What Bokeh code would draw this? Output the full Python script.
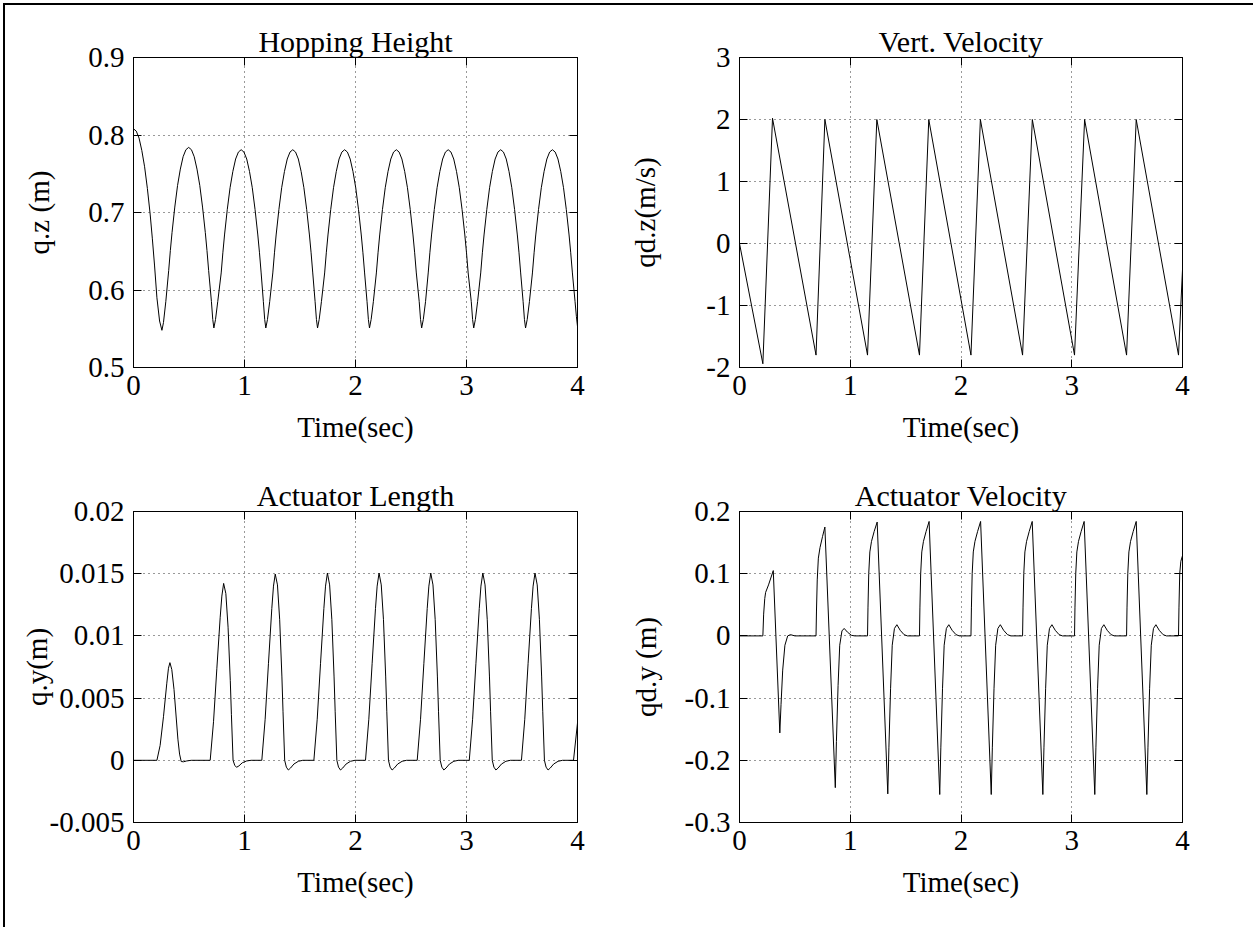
from bokeh.plotting import figure
from bokeh.layouts import gridplot
from bokeh.models import Range1d, FixedTicker, LinearAxis, CustomJSTickFormatter
from bokeh.embed import file_html
from bokeh.resources import INLINE

# ---------------- data ----------------
x_ticks = [0, 1, 2, 3, 4]
x_tick_labels = ["0", "1", "2", "3", "4"]

# Hopping height q.z (m)
t_height = [
    0.000, 0.025, 0.050, 0.075, 0.100, 0.125, 0.150, 0.170, 0.190, 0.211, 0.235, 0.256, 0.270, 0.291,
    0.317, 0.332, 0.347, 0.372, 0.397, 0.422, 0.447, 0.472, 0.497, 0.522, 0.547, 0.572, 0.597, 0.622, 0.647, 0.662, 0.677,
    0.702, 0.714, 0.724, 0.739, 0.759,
    0.790, 0.805, 0.820, 0.845, 0.870, 0.895, 0.920, 0.945, 0.970, 0.995, 1.020, 1.045, 1.070, 1.095, 1.120, 1.135, 1.150,
    1.170, 1.182, 1.192, 1.207, 1.227,
    1.255, 1.270, 1.285, 1.310, 1.335, 1.360, 1.385, 1.410, 1.435, 1.460, 1.485, 1.510, 1.535, 1.560, 1.585, 1.600, 1.615,
    1.636, 1.648, 1.658, 1.673, 1.693,
    1.722, 1.737, 1.752, 1.777, 1.802, 1.827, 1.852, 1.877, 1.902, 1.927, 1.952, 1.977, 2.002, 2.027, 2.052, 2.067, 2.082,
    2.104, 2.116, 2.126, 2.141, 2.161,
    2.188, 2.203, 2.218, 2.243, 2.268, 2.293, 2.318, 2.343, 2.368, 2.393, 2.418, 2.443, 2.468, 2.493, 2.518, 2.533, 2.548,
    2.574, 2.586, 2.596, 2.611, 2.631,
    2.655, 2.670, 2.685, 2.710, 2.735, 2.760, 2.785, 2.810, 2.835, 2.860, 2.885, 2.910, 2.935, 2.960, 2.985, 3.000, 3.015,
    3.043, 3.055, 3.065, 3.080, 3.100,
    3.128, 3.143, 3.158, 3.183, 3.208, 3.233, 3.258, 3.283, 3.308, 3.333, 3.358, 3.383, 3.408, 3.433, 3.458, 3.473, 3.488,
    3.510, 3.522, 3.532, 3.547, 3.567,
    3.594, 3.609, 3.624, 3.649, 3.674, 3.699, 3.724, 3.749, 3.774, 3.799, 3.824, 3.849, 3.874, 3.899, 3.924, 3.939, 3.954,
    3.978, 3.990, 4.000,
]
z_height = [
    0.808, 0.805, 0.796, 0.780, 0.759, 0.731, 0.698, 0.666, 0.631, 0.590, 0.560, 0.548, 0.558, 0.585,
    0.625, 0.651, 0.674, 0.707, 0.735, 0.756, 0.772, 0.781, 0.784, 0.781, 0.772, 0.756, 0.735, 0.707, 0.674, 0.651, 0.625,
    0.585, 0.562, 0.551, 0.562, 0.585,
    0.622, 0.648, 0.671, 0.704, 0.732, 0.753, 0.769, 0.778, 0.781, 0.778, 0.769, 0.753, 0.732, 0.704, 0.671, 0.648, 0.622,
    0.585, 0.562, 0.551, 0.562, 0.585,
    0.622, 0.648, 0.671, 0.704, 0.732, 0.753, 0.769, 0.778, 0.781, 0.778, 0.769, 0.753, 0.732, 0.704, 0.671, 0.648, 0.622,
    0.585, 0.562, 0.551, 0.562, 0.585,
    0.622, 0.648, 0.671, 0.704, 0.732, 0.753, 0.769, 0.778, 0.781, 0.778, 0.769, 0.753, 0.732, 0.704, 0.671, 0.648, 0.622,
    0.585, 0.562, 0.551, 0.562, 0.585,
    0.622, 0.648, 0.671, 0.704, 0.732, 0.753, 0.769, 0.778, 0.781, 0.778, 0.769, 0.753, 0.732, 0.704, 0.671, 0.648, 0.622,
    0.585, 0.562, 0.551, 0.562, 0.585,
    0.622, 0.648, 0.671, 0.704, 0.732, 0.753, 0.769, 0.778, 0.781, 0.778, 0.769, 0.753, 0.732, 0.704, 0.671, 0.648, 0.622,
    0.585, 0.562, 0.551, 0.562, 0.585,
    0.622, 0.648, 0.671, 0.704, 0.732, 0.753, 0.769, 0.778, 0.781, 0.778, 0.769, 0.753, 0.732, 0.704, 0.671, 0.648, 0.622,
    0.585, 0.562, 0.551, 0.562, 0.585,
    0.622, 0.648, 0.671, 0.704, 0.732, 0.753, 0.769, 0.778, 0.781, 0.778, 0.769, 0.753, 0.732, 0.704, 0.671, 0.648, 0.622,
    0.585, 0.566, 0.553,
]
height_yticks = [0.5, 0.6, 0.7, 0.8, 0.9]
height_ylabels = ["0.5", "0.6", "0.7", "0.8", "0.9"]

# Vertical velocity qd.z (m/s)
t_vel = [0.000, 0.211, 0.298, 0.691, 0.771, 1.156, 1.240, 1.625, 1.709, 2.090,
         2.175, 2.556, 2.644, 3.025, 3.116, 3.495, 3.582, 3.964, 4.000]
v_vel = [0.00, -1.94, 2.02, -1.80, 2.00, -1.80, 2.00, -1.80, 2.00, -1.80,
         2.00, -1.80, 2.00, -1.80, 2.00, -1.80, 2.00, -1.80, -0.42]
vel_yticks = [-2, -1, 0, 1, 2, 3]
vel_ylabels = ["-2", "-1", "0", "1", "2", "3"]

# Actuator length q.y (m)
t_act_len = [
    0.000, 0.211, 0.240, 0.270, 0.300, 0.315, 0.328, 0.345, 0.365, 0.385, 0.400, 0.415, 0.430, 0.450, 0.480, 0.520,
    0.691, 0.721, 0.751, 0.781, 0.796, 0.812, 0.832, 0.852, 0.872, 0.882, 0.897, 0.912, 0.928, 0.950, 0.980, 1.020, 1.060,
    1.156, 1.186, 1.216, 1.246, 1.261, 1.277, 1.297, 1.317, 1.337, 1.347, 1.362, 1.377, 1.395, 1.415, 1.445, 1.485, 1.525,
    1.625, 1.655, 1.685, 1.715, 1.730, 1.747, 1.767, 1.787, 1.807, 1.817, 1.832, 1.847, 1.865, 1.885, 1.915, 1.955, 1.995,
    2.090, 2.120, 2.150, 2.180, 2.195, 2.212, 2.232, 2.252, 2.272, 2.282, 2.297, 2.312, 2.330, 2.350, 2.380, 2.420, 2.460,
    2.556, 2.586, 2.616, 2.646, 2.661, 2.678, 2.698, 2.718, 2.738, 2.748, 2.763, 2.778, 2.796, 2.816, 2.846, 2.886, 2.926,
    3.025, 3.055, 3.085, 3.115, 3.130, 3.147, 3.167, 3.187, 3.207, 3.217, 3.232, 3.247, 3.265, 3.285, 3.315, 3.355, 3.395,
    3.495, 3.525, 3.555, 3.585, 3.600, 3.617, 3.637, 3.657, 3.677, 3.687, 3.702, 3.717, 3.735, 3.755, 3.785, 3.825, 3.865,
    3.964, 4.000,
]
y_act_len = [
    0.0, 0.0, 0.0012, 0.0035, 0.0062, 0.0074, 0.00785, 0.0073, 0.0057, 0.0034, 0.0017, 0.0005, -0.0001, -0.00012, -0.00005, 0.0,
    0.0, 0.0031, 0.0074, 0.0115, 0.0132, 0.01422, 0.0134, 0.0107, 0.0064, 0.0037, 0.0, -0.0004, -0.00056, -0.00045, -0.0002, -0.00005, 0.0,
    0.0, 0.0033, 0.0078, 0.0122, 0.0140, 0.01497, 0.0141, 0.0113, 0.0067, 0.0039, 0.0, -0.00055, -0.00078, -0.00062, -0.0003, -0.00008, 0.0,
    0.0, 0.0033, 0.0078, 0.0122, 0.0140, 0.01505, 0.0141, 0.0113, 0.0067, 0.0039, 0.0, -0.00055, -0.00078, -0.00062, -0.0003, -0.00008, 0.0,
    0.0, 0.0033, 0.0078, 0.0122, 0.0140, 0.01505, 0.0141, 0.0113, 0.0067, 0.0039, 0.0, -0.00055, -0.00078, -0.00062, -0.0003, -0.00008, 0.0,
    0.0, 0.0033, 0.0078, 0.0122, 0.0140, 0.01505, 0.0141, 0.0113, 0.0067, 0.0039, 0.0, -0.00055, -0.00078, -0.00062, -0.0003, -0.00008, 0.0,
    0.0, 0.0033, 0.0078, 0.0122, 0.0140, 0.01505, 0.0141, 0.0113, 0.0067, 0.0039, 0.0, -0.00055, -0.00078, -0.00062, -0.0003, -0.00008, 0.0,
    0.0, 0.0033, 0.0078, 0.0122, 0.0140, 0.01505, 0.0141, 0.0113, 0.0067, 0.0039, 0.0, -0.00055, -0.00078, -0.00062, -0.0003, -0.00008, 0.0,
    0.0, 0.003,
]
len_yticks = [-0.005, 0.0, 0.005, 0.01, 0.015, 0.02]
len_ylabels = ["-0.005", "0", "0.005", "0.01", "0.015", "0.02"]

# Actuator velocity qd.y (m)
t_act_vel = [
    0.000, 0.211, 0.218, 0.228, 0.236, 0.262, 0.305, 0.364, 0.375, 0.390, 0.410, 0.435, 0.460, 0.500,
    0.691, 0.695, 0.702, 0.712, 0.727, 0.750, 0.771, 0.865, 0.875, 0.890, 0.905, 0.925, 0.945, 0.975, 1.010, 1.040,
    1.156, 1.160, 1.167, 1.177, 1.192, 1.216, 1.243, 1.339, 1.349, 1.364, 1.379, 1.399, 1.421, 1.451, 1.486, 1.516,
    1.625, 1.629, 1.636, 1.646, 1.661, 1.685, 1.712, 1.808, 1.818, 1.833, 1.848, 1.868, 1.890, 1.920, 1.955, 1.985,
    2.090, 2.094, 2.101, 2.111, 2.126, 2.150, 2.177, 2.273, 2.283, 2.298, 2.313, 2.333, 2.355, 2.385, 2.420, 2.450,
    2.556, 2.560, 2.567, 2.577, 2.592, 2.616, 2.643, 2.739, 2.749, 2.764, 2.779, 2.799, 2.821, 2.851, 2.886, 2.916,
    3.025, 3.029, 3.036, 3.046, 3.061, 3.085, 3.112, 3.208, 3.218, 3.233, 3.248, 3.268, 3.290, 3.320, 3.355, 3.385,
    3.495, 3.499, 3.506, 3.516, 3.531, 3.555, 3.582, 3.678, 3.688, 3.703, 3.718, 3.738, 3.760, 3.790, 3.825, 3.855,
    3.964, 3.968, 3.975, 3.985, 4.000,
]
y_act_vel = [
    0.0, 0.0, 0.035, 0.060, 0.070, 0.082, 0.105, -0.156, -0.110, -0.055, -0.015, 0.0, 0.002, 0.0,
    0.0, 0.040, 0.090, 0.125, 0.142, 0.160, 0.175, -0.244, -0.170, -0.080, -0.015, 0.008, 0.012, 0.006, 0.001, 0.0,
    0.0, 0.045, 0.100, 0.135, 0.152, 0.168, 0.183, -0.254, -0.180, -0.085, -0.015, 0.012, 0.018, 0.009, 0.002, 0.0,
    0.0, 0.045, 0.100, 0.135, 0.152, 0.168, 0.184, -0.255, -0.180, -0.085, -0.015, 0.012, 0.018, 0.009, 0.002, 0.0,
    0.0, 0.045, 0.100, 0.135, 0.152, 0.168, 0.184, -0.255, -0.180, -0.085, -0.015, 0.012, 0.018, 0.009, 0.002, 0.0,
    0.0, 0.045, 0.100, 0.135, 0.152, 0.168, 0.184, -0.255, -0.180, -0.085, -0.015, 0.012, 0.018, 0.009, 0.002, 0.0,
    0.0, 0.045, 0.100, 0.135, 0.152, 0.168, 0.184, -0.255, -0.180, -0.085, -0.015, 0.012, 0.018, 0.009, 0.002, 0.0,
    0.0, 0.045, 0.100, 0.135, 0.152, 0.168, 0.184, -0.255, -0.180, -0.085, -0.015, 0.012, 0.018, 0.009, 0.002, 0.0,
    0.0, 0.045, 0.100, 0.120, 0.129,
]
actvel_yticks = [-0.3, -0.2, -0.1, 0.0, 0.1, 0.2]
actvel_ylabels = ["-0.3", "-0.2", "-0.1", "0", "0.1", "0.2"]

# ---------------- styling ----------------
FONT = "Liberation Serif"
TICK_FS = "29px"
LABEL_FS = "29px"
TITLE_FS = "30px"
TICK_LEN = 8


def tick_formatter(tvals, tlabels):
    return CustomJSTickFormatter(
        args=dict(tv=tvals, tl=tlabels),
        code="const i = tv.findIndex(v => Math.abs(v - tick) < 1e-9); return i >= 0 ? tl[i] : '';",
    )


def style_axis(ax, tvals, tlabels, show_labels=True):
    ax.ticker = FixedTicker(ticks=tvals)
    ax.major_tick_in = TICK_LEN
    ax.major_tick_out = 0
    ax.minor_tick_line_color = None
    ax.axis_line_color = "black"
    ax.major_tick_line_color = "black"
    ax.major_label_text_font = FONT
    ax.major_label_text_color = "black"
    ax.major_label_text_font_size = TICK_FS
    if show_labels:
        ax.formatter = tick_formatter(tvals, tlabels)
    else:
        ax.formatter = CustomJSTickFormatter(code="return '';")
        ax.major_label_standoff = 0


def make_fig(title, ylabel, xs, ys, yrange, yticks, ylabels, w, h, bl, br, bt, bb, ylab_standoff):
    p = figure(width=w, height=h, x_range=Range1d(0, 4), y_range=Range1d(*yrange),
               output_backend="svg", toolbar_location=None,
               min_border_left=bl, min_border_right=br, min_border_top=bt, min_border_bottom=bb,
               background_fill_color="white", border_fill_color="white")
    p.line(xs, ys, line_color="black", line_width=1)

    p.title.text = title
    p.title.text_font = FONT
    p.title.text_font_size = TITLE_FS
    p.title.text_font_style = "normal"
    p.title.text_color = "black"
    p.title.align = "center"
    p.title.standoff = 0

    p.outline_line_color = "black"
    p.outline_line_width = 1
    p.outline_line_alpha = 1

    for g in (p.xgrid[0], p.ygrid[0]):
        g.grid_line_color = "#333333"
        g.grid_line_dash = "1 4"
        g.grid_line_width = 1
    p.xgrid[0].ticker = FixedTicker(ticks=x_ticks)
    p.ygrid[0].ticker = FixedTicker(ticks=yticks)

    xa = p.xaxis[0]
    style_axis(xa, x_ticks, x_tick_labels)
    xa.major_label_standoff = 8
    xa.axis_label = "Time(sec)"
    xa.axis_label_text_font = FONT
    xa.axis_label_text_font_size = LABEL_FS
    xa.axis_label_text_font_style = "normal"
    xa.axis_label_text_color = "black"
    xa.axis_label_standoff = 13

    ya = p.yaxis[0]
    style_axis(ya, yticks, ylabels)
    ya.major_label_standoff = 9
    ya.axis_label = ylabel
    ya.axis_label_text_font = FONT
    ya.axis_label_text_font_size = LABEL_FS
    ya.axis_label_text_font_style = "normal"
    ya.axis_label_text_color = "black"
    ya.axis_label_standoff = ylab_standoff

    top = LinearAxis()
    style_axis(top, x_ticks, x_tick_labels, show_labels=False)
    p.add_layout(top, "above")
    right = LinearAxis()
    style_axis(right, yticks, ylabels, show_labels=False)
    p.add_layout(right, "right")
    return p


LW, RW = 621, 627
TH, BH = 458, 464

p1 = make_fig("Hopping Height", "q.z (m)", t_height, z_height, (0.5, 0.9),
              height_yticks, height_ylabels, LW, TH, 128, 49, 52, 96, 30)
p2 = make_fig("Vert. Velocity", "qd.z(m/s)", t_vel, v_vel, (-2, 3),
              vel_yticks, vel_ylabels, RW, TH, 111, 71, 52, 96, 42)
p3 = make_fig("Actuator Length", "q.y(m)", t_act_len, y_act_len, (-0.005, 0.02),
              len_yticks, len_ylabels, LW, BH, 128, 49, 48, 105, -6)
p4 = make_fig("Actuator Velocity", "qd.y (m)", t_act_vel, y_act_vel, (-0.3, 0.2),
              actvel_yticks, actvel_ylabels, RW, BH, 111, 71, 48, 105, 20)

grid = gridplot([[p1, p2], [p3, p4]], toolbar_location=None)
grid.styles = {"border-left": "2px solid black", "border-top": "2px solid black",
               "margin-left": "3px", "margin-top": "3px"}

open("out.html", "w").write(file_html(grid, INLINE))
